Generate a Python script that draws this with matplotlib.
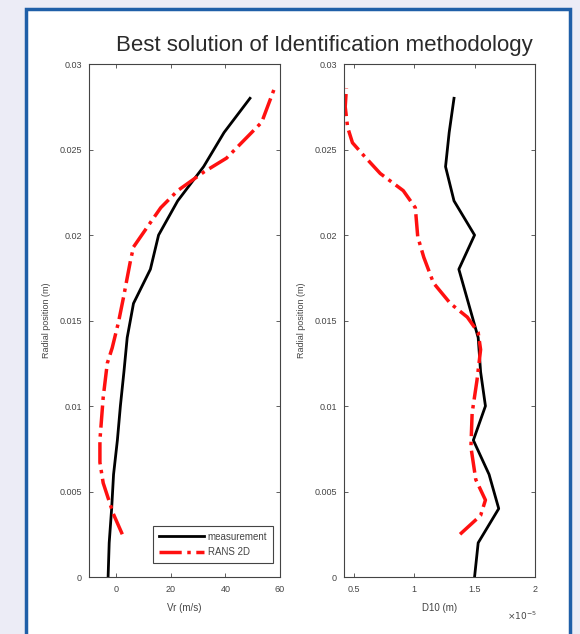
import numpy as np
import matplotlib.pyplot as plt
from matplotlib.patches import Rectangle
from matplotlib.ticker import FuncFormatter

plt.rcParams['font.family'] = ['Liberation Sans', 'DejaVu Sans']

# radial positions (m)
r_meas = [0, 0.002, 0.004, 0.006, 0.008, 0.010, 0.012, 0.014, 0.016, 0.018, 0.020, 0.022, 0.024, 0.026, 0.028]
vr_meas = [-3, -2.6, -1.7, -1.0, 0.4, 1.5, 2.8, 4.0, 6.3, 12.5, 15.5, 22.5, 32, 39.5, 49]
d10_meas = [1.50e-5, 1.53e-5, 1.70e-5, 1.62e-5, 1.49e-5, 1.59e-5, 1.55e-5, 1.53e-5,
            1.45e-5, 1.37e-5, 1.50e-5, 1.33e-5, 1.26e-5, 1.29e-5, 1.33e-5]

r_rans_vr = [0.0025, 0.0037, 0.0055, 0.0067, 0.008, 0.0105, 0.0125, 0.0134, 0.0149, 0.0164,
             0.0175, 0.0185, 0.0193, 0.0205, 0.0216, 0.0226, 0.0237, 0.0245, 0.0266, 0.0286]
vr_rans = [2.2, -1.1, -4.8, -6.0, -6.0, -4.8, -3.3, -1.5, 0.8, 2.7,
           4.0, 5.2, 6.3, 11.5, 16.3, 22.5, 32.2, 40.4, 53.3, 58]

r_rans_d = [0.0025, 0.0036, 0.0045, 0.0057, 0.0076, 0.0096, 0.0115, 0.0133, 0.0143, 0.0152,
            0.016, 0.0172, 0.0187, 0.0199, 0.0216, 0.0226, 0.0236, 0.0246, 0.0254, 0.0263,
            0.0275, 0.0286]
d10_rans = [1.38e-5, 1.55e-5, 1.59e-5, 1.51e-5, 1.47e-5, 1.48e-5, 1.52e-5, 1.55e-5, 1.53e-5, 1.44e-5,
            1.30e-5, 1.16e-5, 1.08e-5, 1.03e-5, 1.01e-5, 0.91e-5, 0.72e-5, 0.59e-5, 0.49e-5, 0.45e-5,
            0.43e-5, 0.44e-5]

yticks = [0, 0.005, 0.01, 0.015, 0.02, 0.025, 0.03]
yticklabels = ['0', '0.005', '0.01', '0.015', '0.02', '0.025', '0.03']

txt = '#444444'

fig = plt.figure(figsize=(5.8, 6.34), dpi=100, facecolor='#ececf6')
frame = Rectangle((26 / 580, -0.05), 544 / 580, 1.05 - 9 / 634,
                  transform=fig.transFigure, facecolor='white',
                  edgecolor='#1f5fa8', linewidth=2.5, zorder=-10)
fig.add_artist(frame)

fig.text(0.56, 0.929, 'Best solution of Identification methodology', ha='center', va='center',
         fontsize=16, color='#2a2a2a')

ax1 = fig.add_axes([89 / 580, 0.0899, 191 / 580, 0.809])
ax2 = fig.add_axes([344 / 580, 0.0899, 191 / 580, 0.809])

ax1.plot(vr_meas, r_meas, color='black', lw=2, label='measurement')
ax1.plot(vr_rans, r_rans_vr, color='#ff1010', lw=2.5, ls='-.', label='RANS 2D')
ax1.set_xlim(-10, 60)
ax1.set_xticks([0, 20, 40, 60])
ax1.set_xlabel('Vr (m/s)', fontsize=7, color=txt, labelpad=6)
leg = ax1.legend(loc='lower right', bbox_to_anchor=(0.99, 0.018), fontsize=7, fancybox=False,
                 framealpha=1, edgecolor=txt, handlelength=4.6, handletextpad=0.4,
                 borderpad=0.6, labelspacing=0.55)
leg.get_frame().set_linewidth(0.8)
for t in leg.get_texts():
    t.set_color(txt)

ax2.plot(d10_meas, r_meas, color='black', lw=2)
ax2.plot(d10_rans, r_rans_d, color='#ff1010', lw=2.5, ls='-.')
ax2.set_xlim(0.42e-5, 2e-5)
ax2.set_xticks([0.5e-5, 1e-5, 1.5e-5, 2e-5])
ax2.xaxis.set_major_formatter(FuncFormatter(lambda v, p: '%g' % round(v * 1e5, 3)))
ax2.set_xlabel('D10 (m)', fontsize=7, color=txt, labelpad=6)
ax2.text(0.93, -0.075, r'$\times10^{-5}$', transform=ax2.transAxes, ha='center', va='center',
         fontsize=6.5, color=txt)

for ax in (ax1, ax2):
    ax.set_ylim(0, 0.03)
    ax.set_yticks(yticks)
    ax.set_yticklabels(yticklabels)
    ax.set_ylabel('Radial position (m)', fontsize=6.5, color=txt, labelpad=6)
    ax.tick_params(direction='in', top=True, right=True, labelsize=6.5, colors=txt,
                   length=3, width=0.6)
    ax.tick_params(axis='x', pad=6)
    ax.tick_params(axis='y', pad=5)
    for s in ax.spines.values():
        s.set_color(txt)
        s.set_linewidth(0.8)

fig.savefig('out.png', dpi=100, facecolor=fig.get_facecolor())
